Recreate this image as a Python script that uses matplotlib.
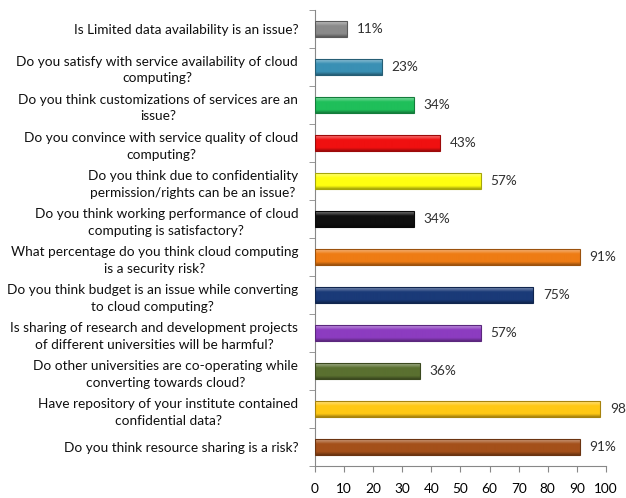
import matplotlib.pyplot as plt
import matplotlib.colors as mcolors
import numpy as np

questions = [
    "Is Limited data availability is an issue?",
    "Do you satisfy with service availability of cloud\ncomputing?",
    "Do you think customizations of services are an\nissue?",
    "Do you convince with service quality of cloud\ncomputing?",
    "Do you think due to confidentiality\npermission/rights can be an issue?",
    "Do you think working performance of cloud\ncomputing is satisfactory?",
    "What percentage do you think cloud computing\nis a security risk?",
    "Do you think budget is an issue while converting\nto cloud computing?",
    "Is sharing of research and development projects\nof different universities will be harmful?",
    "Do other universities are co-operating while\nconverting towards cloud?",
    "Have repository of your institute contained\nconfidential data?",
    "Do you think resource sharing is a risk?",
]
percent = [11, 23, 34, 43, 57, 34, 91, 75, 57, 36, 98, 91]
bar_colors = ["#8a8a8a", "#3a90b4", "#1fbf5a", "#f01010", "#ffff10", "#101010",
              "#ee7c14", "#1a3a78", "#8c3cc0", "#5a7030", "#ffc814", "#a4501a"]

plt.rcParams['font.family'] = ['Lato', 'DejaVu Sans']

fig = plt.figure(figsize=(6.26, 4.98), dpi=100)
ax = fig.add_axes([0.503, 0.064, 0.465, 0.916])

y = np.arange(len(questions))
h = 0.42
bars = ax.barh(y, percent, height=h, color=bar_colors, linewidth=0.8, zorder=2)

# give each bar a vertical shading like the Excel bevel style
for bar, c in zip(bars, bar_colors):
    base = np.array(mcolors.to_rgb(c))
    light = base + (1 - base) * 0.45
    dark = base * 0.65
    cmap = mcolors.LinearSegmentedColormap.from_list(
        "bev", [(0, light), (0.3, base), (0.8, base), (1, dark)])
    x0, y0 = bar.get_x(), bar.get_y()
    w, hh = bar.get_width(), bar.get_height()
    grad = np.linspace(0, 1, 64).reshape(-1, 1)
    im = ax.imshow(grad, cmap=cmap, aspect="auto", zorder=3,
                   extent=(x0, x0 + w, y0 + hh, y0), origin="upper")
    im.set_clip_path(bar)
    bar.set_edgecolor(dark)
    bar.set_zorder(4)
    bar.set_facecolor("none")

for yi, v in zip(y, percent):
    ax.annotate(f"{v}%", (v, yi), xytext=(7, 0), textcoords="offset points",
                va="center", ha="left", fontsize=9.8, color="#303030",
                annotation_clip=False)

ax.set_xlim(0, 100)
ax.set_ylim(len(questions) - 0.5, -0.5)
ax.set_aspect("auto")
ax.set_xticks(range(0, 101, 10))
ax.set_yticks(y)
ax.set_yticklabels(questions, fontsize=9.8, color="#101010")
for t in ax.get_yticklabels():
    t.set_multialignment("center")
    t.set_linespacing(1.45)
ax.set_yticks(np.arange(-0.5, len(questions)), minor=True)
ax.tick_params(axis="y", which="major", length=0, pad=12)
ax.tick_params(axis="y", which="minor", length=4, color="#888888", direction="out")
ax.tick_params(axis="x", length=4, color="#888888", pad=8, labelsize=9.8)

for side in ["top", "right"]:
    ax.spines[side].set_visible(False)
for side in ["left", "bottom"]:
    ax.spines[side].set_color("#888888")

fig.savefig("out.png", dpi=100)
